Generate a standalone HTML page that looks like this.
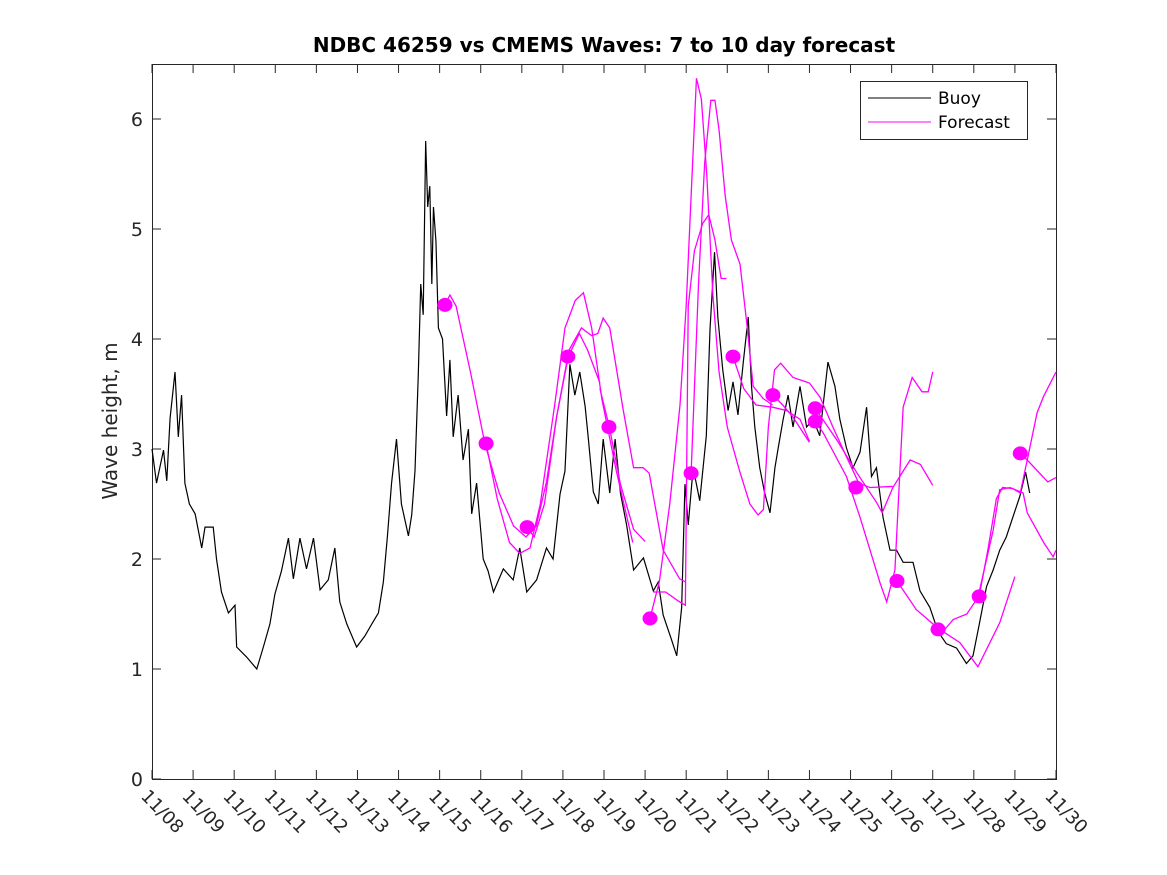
<!DOCTYPE html>
<html><head><meta charset="utf-8"><style>
body{margin:0;background:#fff;}
svg{display:block;font-family:"DejaVu Sans","Liberation Sans",sans-serif;}
</style></head><body>
<svg id="chart" width="1167" height="875">
<rect x="0" y="0" width="1167" height="875" fill="#fff"/>
<text x="604" y="52" text-anchor="middle" font-size="20" font-weight="bold" fill="#000">NDBC 46259 vs CMEMS Waves: 7 to 10 day forecast</text>
<text transform="translate(117,421) rotate(-90)" text-anchor="middle" font-size="20" fill="#262626">Wave height, m</text>
<g id="plot"></g>
<g id="legend">
<rect x="860.5" y="81.5" width="167" height="58" fill="#fff" stroke="#262626" stroke-width="1"/>
<line x1="868" y1="98" x2="931" y2="98" stroke="#000" stroke-width="1"/>
<text x="938" y="104" font-size="17" fill="#000">Buoy</text>
<line x1="868" y1="122" x2="931" y2="122" stroke="#ff00ff" stroke-width="1"/>
<text x="938" y="128" font-size="17" fill="#000">Forecast</text>
</g>
</svg>
<script>
const xTickLabels=["11/08","11/09","11/10","11/11","11/12","11/13","11/14","11/15","11/16","11/17","11/18","11/19","11/20","11/21","11/22","11/23","11/24","11/25","11/26","11/27","11/28","11/29","11/30"];
const yTickLabels=["0","1","2","3","4","5","6"];
const buoyDays=[0,0.11,0.28,0.36,0.44,0.56,0.64,0.72,0.8,0.91,1.05,1.21,1.29,1.49,1.57,1.69,1.86,2.02,2.06,2.3,2.55,2.71,2.87,2.99,3.15,3.32,3.44,3.6,3.76,3.93,4.09,4.29,4.45,4.57,4.74,4.98,5.18,5.35,5.51,5.63,5.73,5.83,5.95,6.07,6.24,6.32,6.4,6.48,6.54,6.6,6.66,6.71,6.76,6.81,6.85,6.91,6.97,7.07,7.17,7.25,7.33,7.45,7.57,7.7,7.78,7.9,8.06,8.18,8.31,8.55,8.79,8.95,9.12,9.36,9.6,9.76,9.93,10.05,10.17,10.29,10.41,10.54,10.62,10.74,10.86,10.98,11.14,11.27,11.4,11.55,11.72,11.96,12.2,12.32,12.44,12.64,12.77,12.89,12.97,13.05,13.17,13.33,13.49,13.58,13.69,13.77,13.89,14.02,14.14,14.26,14.39,14.51,14.59,14.67,14.79,14.91,15.04,15.16,15.24,15.36,15.48,15.6,15.77,15.93,16.09,16.25,16.45,16.62,16.74,16.9,17.06,17.23,17.39,17.51,17.63,17.79,17.96,18.12,18.28,18.52,18.69,18.93,19.13,19.33,19.58,19.82,19.98,20.14,20.31,20.47,20.63,20.79,20.95,21.12,21.26,21.36];
const buoyValues=[3.0,2.69,2.99,2.71,3.28,3.7,3.11,3.49,2.69,2.5,2.41,2.1,2.29,2.29,2.0,1.7,1.51,1.58,1.2,1.11,1.0,1.2,1.41,1.68,1.89,2.19,1.82,2.19,1.91,2.19,1.72,1.81,2.1,1.61,1.41,1.2,1.3,1.41,1.51,1.79,2.21,2.69,3.09,2.5,2.21,2.4,2.8,3.67,4.5,4.22,5.8,5.2,5.39,4.5,5.2,4.89,4.1,4.0,3.3,3.81,3.11,3.49,2.9,3.18,2.41,2.69,2.0,1.89,1.7,1.91,1.81,2.1,1.7,1.81,2.1,2.0,2.59,2.8,3.77,3.49,3.7,3.39,3.09,2.61,2.5,3.09,2.6,3.09,2.6,2.31,1.9,2.01,1.71,1.79,1.49,1.27,1.12,1.56,2.68,2.31,2.83,2.53,3.12,4.09,4.79,4.2,3.72,3.35,3.61,3.31,3.79,4.2,3.57,3.2,2.83,2.6,2.42,2.83,3.01,3.27,3.49,3.2,3.57,3.2,3.27,3.12,3.79,3.57,3.27,3.01,2.83,2.97,3.38,2.75,2.83,2.38,2.08,2.08,1.97,1.97,1.71,1.56,1.34,1.23,1.19,1.05,1.12,1.42,1.75,1.9,2.08,2.2,2.38,2.57,2.79,2.6];
const markerDays=[7.13,8.13,9.13,10.12,11.12,12.12,13.12,14.14,15.11,16.14,16.14,17.13,18.13,19.13,20.13,21.13];
const markerValues=[4.31,3.05,2.29,3.84,3.2,1.46,2.78,3.84,3.49,3.37,3.25,2.65,1.80,1.36,1.66,2.96];
const fc1Days=[7.13,7.25,7.4,7.75,8.1,8.45,8.8,9.1,9.35,9.6,9.85,10.13,10.4,10.6,10.9];
const fc1Values=[4.31,4.4,4.3,3.7,3.05,2.6,2.3,2.2,2.3,2.7,3.3,3.84,4.05,3.9,3.6];
const fc2Days=[8.13,8.4,8.7,8.95,9.2,9.45,9.8,10.05,10.3,10.5,10.7,10.95,11.3,11.7];
const fc2Values=[3.05,2.55,2.15,2.05,2.1,2.5,3.4,4.1,4.35,4.42,4.1,3.45,2.8,2.15];
const fc3Days=[9.13,9.3,9.55,9.85,10.15,10.45,10.7,10.85,10.98,11.14,11.47,11.72,11.95,12.1,12.44,12.84,12.99];
const fc3Values=[2.29,2.2,2.5,3.3,3.9,4.1,4.03,4.05,4.19,4.1,3.35,2.83,2.83,2.78,2.08,1.82,1.79];
const fc4Days=[10.9,11.13,11.4,11.72,12.0];
const fc4Values=[3.55,3.2,2.68,2.27,2.16];
const fc5Days=[12.12,12.35,12.6,12.85,13.0,13.12,13.25,13.37,13.5,13.65,13.8,14.0,14.3,14.55,14.75,14.88,15.0,15.15,15.3,15.6,16.0,16.26,16.57,16.9,17.2,17.47,18.03];
const fc5Values=[1.46,1.8,2.5,3.4,4.3,5.3,6.37,6.18,5.5,4.4,3.7,3.2,2.8,2.5,2.4,2.45,3.2,3.72,3.78,3.65,3.6,3.47,3.2,2.93,2.69,2.65,2.66];
const fc6Days=[12.2,12.5,12.8,12.98,13.05,13.2,13.4,13.55,13.7,13.85,13.98];
const fc6Values=[1.7,1.7,1.62,1.58,4.3,4.8,5.05,5.13,4.9,4.55,4.55];
const fc7Days=[13.12,13.3,13.45,13.6,13.7,13.8,13.95,14.1,14.31,14.47,14.63,14.87,15.1];
const fc7Values=[2.78,4.5,5.6,6.17,6.17,5.9,5.3,4.9,4.68,4.16,3.57,3.46,3.4];
const fc8Days=[14.14,14.4,14.7,15.1,15.44,15.77,16.0];
const fc8Values=[3.84,3.55,3.4,3.38,3.35,3.27,3.07];
const fc9Days=[15.11,15.35,15.6,16.0];
const fc9Values=[3.49,3.4,3.29,3.06];
const fc10Days=[16.14,16.67,17.16,17.64,17.77,18.03,18.45,18.7,19.0];
const fc10Values=[3.37,3.08,2.78,2.51,2.42,2.65,2.9,2.86,2.67];
const fc11Days=[16.14,16.33,16.9,17.23,17.72,17.88,18.08,18.28,18.5,18.74,18.89,19.0];
const fc11Values=[3.25,3.15,2.75,2.38,1.78,1.61,1.9,3.38,3.65,3.52,3.52,3.7];
const fc12Days=[18.13,18.6,19.13,19.66,20.1,20.63,21.0];
const fc12Values=[1.8,1.54,1.37,1.24,1.02,1.42,1.84];
const fc13Days=[19.13,19.18,19.5,19.83,20.1,20.47,20.63,20.88,21.2,21.3,21.7,21.93,22.0];
const fc13Values=[1.36,1.31,1.45,1.5,1.65,2.26,2.63,2.65,2.6,2.42,2.15,2.02,2.08];
const fc14Days=[20.13,20.35,20.55,20.7,20.95,21.13,21.3,21.54,21.7,22.0];
const fc14Values=[1.66,2.1,2.55,2.65,2.64,2.6,2.9,3.33,3.48,3.7];
const fc15Days=[21.13,21.3,21.8,22.0];
const fc15Values=[2.96,2.9,2.7,2.74];

const X0=152,X1=1056,Y0=779,Y1=64;
function xs(d){return X0+(X1-X0)*d/22;}
function ys(v){return Y0-(Y0-Y1)*v/6.5;}
const NS="http://www.w3.org/2000/svg";
const plot=document.getElementById('plot');
function mk(tag,attrs){const e=document.createElementNS(NS,tag);for(const k in attrs)e.setAttribute(k,attrs[k]);plot.appendChild(e);return e;}

const frame=mk('rect',{x:X0+0.5,y:Y1+0.5,width:X1-X0,height:Y0-Y1,fill:'none',stroke:'#262626','stroke-width':1});



xTickLabels.forEach((lab,i)=>{
  const x=xs(i);
  const t1=mk('line',{x1:x,y1:Y0,x2:x,y2:Y0-9,stroke:'#262626'});
  
  
  const t2=mk('line',{x1:x,y1:Y1,x2:x,y2:Y1+9,stroke:'#262626'});
  
  
  const tx=mk('text',{transform:`translate(${x-12},${Y0+18}) rotate(46)`,'font-size':18,fill:'#262626'});
  tx.textContent=lab;
  
  
});
yTickLabels.forEach((lab,i)=>{
  const y=ys(i);
  const t1=mk('line',{x1:X0,y1:y,x2:X0+9,y2:y,stroke:'#262626'});
  
  
  const t2=mk('line',{x1:X1,y1:y,x2:X1-9,y2:y,stroke:'#262626'});
  
  
  const tx=mk('text',{x:X0-9,y:y+7,'text-anchor':'end','font-size':19,fill:'#262626'});
  tx.textContent=lab;
  
  
});

const buoy=mk('polyline',{points:buoyDays.map((d,i)=>xs(d)+','+ys(buoyValues[i])).join(' '),fill:'none',stroke:'#000','stroke-width':1.2});



const fcs=[[fc1Days,fc1Values],[fc2Days,fc2Values],[fc3Days,fc3Values],[fc4Days,fc4Values],[fc5Days,fc5Values],[fc6Days,fc6Values],[fc7Days,fc7Values],[fc8Days,fc8Values],[fc9Days,fc9Values],[fc10Days,fc10Values],[fc11Days,fc11Values],[fc12Days,fc12Values],[fc13Days,fc13Values],[fc14Days,fc14Values],[fc15Days,fc15Values]];
fcs.forEach(([ds,vs])=>{
  const p=mk('polyline',{points:ds.map((d,i)=>xs(d)+','+ys(vs[i])).join(' '),fill:'none',stroke:'#ff00ff','stroke-width':1.3});
  
  
});
markerDays.forEach((d,i)=>{
  const c=mk('ellipse',{cx:xs(d),cy:ys(markerValues[i]),rx:7.5,ry:7,fill:'#ff00ff'});
  
  
});
</script>
</body></html>
